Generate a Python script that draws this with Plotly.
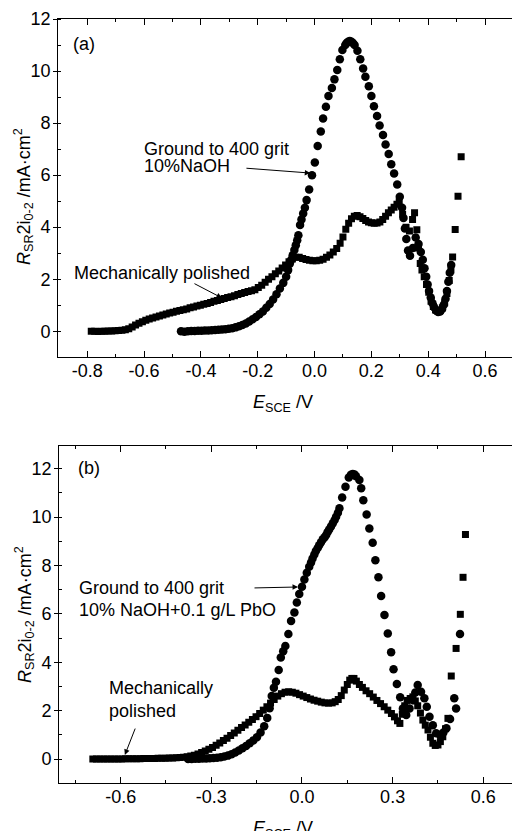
import plotly.graph_objects as go

# ---------------- data: panel (a), 10% NaOH ----------------
a_ground_E = [-0.470, -0.458, -0.446, -0.434, -0.422, -0.410, -0.398, -0.386, -0.374, -0.362,
              -0.350, -0.338, -0.326, -0.314, -0.302, -0.290, -0.278, -0.266, -0.254, -0.242,
              -0.230, -0.218, -0.206, -0.194, -0.182, -0.170, -0.158, -0.146, -0.134, -0.122,
              -0.110, -0.100, -0.093, -0.087, -0.082, -0.077, -0.071, -0.066, -0.061, -0.057,
              -0.051, -0.046, -0.040, -0.034, -0.028, -0.019, -0.009, 0.001, 0.011, 0.022,
              0.030, 0.040, 0.049, 0.061, 0.070, 0.080, 0.089, 0.098, 0.108, 0.113,
              0.118, 0.124, 0.130, 0.135, 0.141, 0.151, 0.161, 0.171, 0.179, 0.191,
              0.200, 0.209, 0.220, 0.229, 0.241, 0.250, 0.261, 0.270, 0.280, 0.291,
              0.300, 0.308, 0.313, 0.318, 0.323, 0.329, 0.336, 0.346, 0.356, 0.366,
              0.374, 0.381, 0.387, 0.393, 0.398, 0.403, 0.409, 0.415, 0.421, 0.428,
              0.435, 0.442, 0.449, 0.455, 0.461, 0.466, 0.471, 0.476, 0.481]
a_ground_i = [0.00, -0.02, 0.00, 0.01, 0.01, 0.02, 0.02, 0.03, 0.03, 0.04,
              0.05, 0.06, 0.07, 0.08, 0.10, 0.12, 0.15, 0.19, 0.24, 0.30,
              0.38, 0.46, 0.55, 0.65, 0.76, 0.90, 1.05, 1.22, 1.42, 1.64,
              1.86, 2.10, 2.35, 2.60, 2.75, 2.92, 3.12, 3.31, 3.50, 3.69,
              4.08, 4.30, 4.53, 4.75, 5.04, 5.45, 6.00, 6.49, 7.12, 7.68,
              8.18, 8.63, 9.04, 9.35, 9.68, 10.04, 10.45, 10.81, 11.00, 11.08,
              11.13, 11.15, 11.13, 11.08, 11.00, 10.78, 10.45, 10.10, 9.78, 9.42,
              9.04, 8.65, 8.27, 7.91, 7.54, 7.18, 6.81, 6.42, 6.06, 5.64,
              5.17, 4.75, 4.35, 3.95, 3.55, 3.10, 2.90, 3.20, 3.60, 3.35,
              3.05, 2.75, 2.42, 2.10, 1.80, 1.55, 1.30, 1.08, 0.92, 0.80,
              0.74, 0.76, 0.86, 1.02, 1.25, 1.55, 1.90, 2.25, 2.55]

a_polish_E = [-0.786, -0.774, -0.762, -0.750, -0.738, -0.726, -0.714, -0.702, -0.690, -0.678,
              -0.666, -0.654, -0.642, -0.630, -0.618, -0.606, -0.594, -0.582, -0.570, -0.558,
              -0.546, -0.534, -0.522, -0.510, -0.498, -0.486, -0.474, -0.462, -0.450, -0.438,
              -0.426, -0.414, -0.402, -0.390, -0.378, -0.366, -0.354, -0.342, -0.330, -0.318,
              -0.306, -0.294, -0.282, -0.270, -0.258, -0.246, -0.234, -0.222, -0.210, -0.198,
              -0.186, -0.174, -0.162, -0.150, -0.138, -0.126, -0.114, -0.102, -0.090, -0.078,
              -0.066, -0.054, -0.042, -0.030, -0.018, -0.006, 0.006, 0.018, 0.030, 0.042,
              0.054, 0.066, 0.078, 0.090, 0.100, 0.110, 0.120, 0.130, 0.140, 0.150,
              0.160, 0.170, 0.180, 0.190, 0.200, 0.210, 0.220, 0.230, 0.240, 0.250,
              0.260, 0.270, 0.280, 0.290, 0.298, 0.310, 0.322, 0.334, 0.345, 0.352,
              0.360, 0.366, 0.372, 0.378, 0.386, 0.394, 0.402, 0.410, 0.418, 0.426,
              0.434, 0.442, 0.450, 0.458, 0.466, 0.474, 0.480, 0.486, 0.495, 0.505,
              0.516]
a_polish_i = [0.00, 0.00, -0.01, 0.00, 0.00, 0.01, 0.01, 0.02, 0.03, 0.04,
              0.06, 0.10, 0.16, 0.24, 0.31, 0.37, 0.42, 0.47, 0.51, 0.55,
              0.59, 0.63, 0.66, 0.70, 0.73, 0.77, 0.80, 0.83, 0.86, 0.90,
              0.93, 0.97, 1.00, 1.04, 1.07, 1.11, 1.15, 1.18, 1.22, 1.26,
              1.30, 1.33, 1.37, 1.41, 1.45, 1.49, 1.53, 1.56, 1.60, 1.68,
              1.77, 1.88, 2.00, 2.10, 2.21, 2.32, 2.43, 2.55, 2.67, 2.78,
              2.84, 2.84, 2.80, 2.76, 2.73, 2.71, 2.71, 2.73, 2.77, 2.84,
              2.93, 3.05, 3.18, 3.38, 3.62, 3.92, 4.15, 4.32, 4.42, 4.45,
              4.40, 4.33, 4.26, 4.20, 4.17, 4.15, 4.16, 4.20, 4.30, 4.42,
              4.55, 4.66, 4.77, 4.88, 4.97, 4.50, 4.00, 3.85, 4.30, 4.55,
              3.90, 3.20, 2.60, 2.35, 2.10, 1.80, 1.50, 1.15, 0.95, 0.82,
              0.78, 0.80, 0.90, 1.10, 1.45, 1.95, 2.35, 2.85, 3.91, 5.19,
              6.71]

# ---------------- data: panel (b), 10% NaOH + 0.1 g/L PbO ----------------
b_ground_E = [-0.377, -0.365, -0.353, -0.341, -0.329, -0.317, -0.305, -0.293, -0.281, -0.269,
              -0.257, -0.245, -0.233, -0.221, -0.209, -0.197, -0.185, -0.173, -0.161, -0.149,
              -0.137, -0.125, -0.115, -0.107, -0.100, -0.093, -0.086, -0.077, -0.070, -0.062,
              -0.055, -0.045, -0.036, -0.025, -0.017, -0.009, 0.000, 0.008, 0.016, 0.024,
              0.030, 0.035, 0.041, 0.046, 0.052, 0.057, 0.063, 0.069, 0.075, 0.080,
              0.085, 0.090, 0.096, 0.102, 0.108, 0.113, 0.119, 0.124, 0.133, 0.144,
              0.155, 0.162, 0.168, 0.174, 0.179, 0.190, 0.196, 0.203, 0.214, 0.223,
              0.234, 0.243, 0.253, 0.262, 0.273, 0.284, 0.295, 0.303, 0.314, 0.325,
              0.334, 0.345, 0.356, 0.367, 0.375, 0.383, 0.394, 0.405, 0.413, 0.422,
              0.433, 0.444, 0.457, 0.468, 0.478, 0.490, 0.510, 0.504, 0.523]
b_ground_i = [0.00, 0.00, 0.01, 0.01, 0.02, 0.02, 0.03, 0.04, 0.05, 0.07,
              0.10, 0.14, 0.20, 0.27, 0.35, 0.44, 0.54, 0.65, 0.77, 0.90,
              1.10, 1.35, 1.70, 2.10, 2.60, 2.95, 3.19, 3.68, 4.20, 4.45,
              4.67, 5.17, 5.70, 6.06, 6.47, 6.82, 7.12, 7.42, 7.70, 7.95,
              8.12, 8.29, 8.45, 8.60, 8.72, 8.84, 8.96, 9.08, 9.17, 9.26,
              9.38, 9.49, 9.61, 9.74, 9.88, 10.01, 10.18, 10.36, 10.81, 11.25,
              11.64, 11.75, 11.78, 11.76, 11.69, 11.53, 11.19, 10.70, 10.11, 9.53,
              8.94, 8.22, 7.51, 6.74, 5.95, 5.19, 4.41, 3.71, 3.10, 2.55,
              2.09, 1.82, 2.09, 2.44, 2.75, 3.06, 2.78, 2.51, 2.16, 1.75,
              1.40, 1.06, 0.99, 1.10, 1.27, 1.65, 2.09, 2.51, 5.17]

b_polish_E = [-0.692, -0.680, -0.668, -0.656, -0.644, -0.632, -0.620, -0.608, -0.596, -0.584,
              -0.572, -0.560, -0.548, -0.536, -0.524, -0.512, -0.500, -0.488, -0.476, -0.464,
              -0.452, -0.440, -0.428, -0.416, -0.404, -0.392, -0.380, -0.368, -0.356, -0.344,
              -0.332, -0.320, -0.308, -0.296, -0.284, -0.272, -0.260, -0.248, -0.236, -0.224,
              -0.212, -0.200, -0.188, -0.176, -0.164, -0.152, -0.140, -0.128, -0.116, -0.104,
              -0.092, -0.080, -0.068, -0.056, -0.044, -0.032, -0.020, -0.008, 0.004, 0.016,
              0.028, 0.040, 0.052, 0.064, 0.076, 0.088, 0.100, 0.110, 0.120, 0.130,
              0.140, 0.150, 0.158, 0.165, 0.172, 0.180, 0.190, 0.200, 0.212, 0.224,
              0.236, 0.248, 0.260, 0.272, 0.284, 0.296, 0.306, 0.316, 0.324, 0.332,
              0.340, 0.348, 0.358, 0.367, 0.375, 0.383, 0.392, 0.400, 0.408, 0.417,
              0.425, 0.433, 0.441, 0.450, 0.458, 0.466, 0.475, 0.483, 0.494, 0.510,
              0.524, 0.533, 0.541]
b_polish_i = [0.00, 0.00, 0.00, 0.00, 0.00, 0.00, 0.00, 0.00, 0.00, 0.01,
              0.01, 0.01, 0.01, 0.01, 0.02, 0.02, 0.02, 0.02, 0.03, 0.03,
              0.03, 0.04, 0.04, 0.05, 0.06, 0.07, 0.09, 0.12, 0.16, 0.21,
              0.27, 0.33, 0.40, 0.48, 0.57, 0.66, 0.76, 0.86, 0.97, 1.08,
              1.19, 1.30, 1.41, 1.52, 1.63, 1.75, 1.88, 2.02, 2.16, 2.31,
              2.46, 2.60, 2.70, 2.76, 2.78, 2.76, 2.72, 2.66, 2.60, 2.54,
              2.48, 2.43, 2.39, 2.35, 2.32, 2.31, 2.32, 2.37, 2.46, 2.62,
              2.85, 3.08, 3.26, 3.33, 3.33, 3.22, 3.08, 2.96, 2.82, 2.70,
              2.56, 2.42, 2.29, 2.16, 2.02, 1.88, 1.74, 1.58, 1.47, 1.85,
              2.20, 2.42, 2.50, 2.57, 2.40, 2.20, 1.90, 1.61, 1.40, 1.20,
              0.90, 0.65, 0.56, 0.58, 0.72, 0.92, 1.25, 1.68, 3.43, 4.57,
              5.98, 7.51, 9.28]

# ---------------- tick labels ----------------
a_xtick_vals = [-0.8, -0.6, -0.4, -0.2, 0.0, 0.2, 0.4, 0.6]
a_xtick_text = ["-0.8", "-0.6", "-0.4", "-0.2", "0.0", "0.2", "0.4", "0.6"]
b_xtick_vals = [-0.6, -0.3, 0.0, 0.3, 0.6]
b_xtick_text = ["-0.6", "-0.3", "0.0", "0.3", "0.6"]
ytick_vals = [0, 2, 4, 6, 8, 10, 12]
ytick_text = ["0", "2", "4", "6", "8", "10", "12"]

for xs, ys in [(a_ground_E, a_ground_i), (a_polish_E, a_polish_i),
               (b_ground_E, b_ground_i), (b_polish_E, b_polish_i)]:
    assert len(xs) == len(ys), (len(xs), len(ys))

FONT = "Liberation Sans, Arial, sans-serif"
FS = 18
W, H = 512, 831

fig = go.Figure()

circle = dict(symbol="circle", size=8.5, color="black", line=dict(width=0))
square = dict(symbol="square", size=7, color="black", line=dict(width=0))

fig.add_trace(go.Scatter(x=a_polish_E, y=a_polish_i, mode="markers", marker=square,
                         xaxis="x", yaxis="y", name="Mechanically polished"))
fig.add_trace(go.Scatter(x=a_ground_E, y=a_ground_i, mode="markers", marker=circle,
                         xaxis="x", yaxis="y", name="Ground to 400 grit"))
fig.add_trace(go.Scatter(x=b_polish_E, y=b_polish_i, mode="markers", marker=square,
                         xaxis="x2", yaxis="y2", name="Mechanically polished"))
fig.add_trace(go.Scatter(x=b_ground_E, y=b_ground_i, mode="markers", marker=circle,
                         xaxis="x2", yaxis="y2", name="Ground to 400 grit"))


def xaxis_style(vals, text, minor_step, rng, left_px, anchor):
    return dict(
        domain=[left_px / W, 1.0], range=rng, anchor=anchor, automargin=False,
        showline=True, linecolor="black", linewidth=1.2, mirror="allticks",
        ticks="inside", ticklen=6, tickwidth=1.2, tickcolor="black",
        tickvals=vals, ticktext=text, ticklabelstandoff=-3,
        minor=dict(dtick=minor_step, tick0=0, ticks="inside", ticklen=3,
                   tickwidth=1.2, tickcolor="black"),
        showgrid=False, zeroline=False,
        tickfont=dict(family=FONT, size=FS, color="black"),
    )


def yaxis_style(domain_px, rng, anchor):
    top, bottom = domain_px
    return dict(
        domain=[1 - bottom / H, 1 - top / H], range=rng, anchor=anchor, automargin=False,
        showline=True, linecolor="black", linewidth=1.2, mirror=False,
        ticks="outside", ticklen=4, tickwidth=1.2, tickcolor="black",
        tickvals=ytick_vals, ticktext=ytick_text, ticklabelstandoff=-1,
        minor=dict(dtick=1, tick0=0, ticks="inside", ticklen=3,
                   tickwidth=1.2, tickcolor="black"),
        showgrid=False, zeroline=False,
        tickfont=dict(family=FONT, size=FS, color="black"),
    )


ytitle = "<i>R</i><sub>SR</sub>2i<sub>0-2</sub> /mA·cm<sup>2</sup>"
xtitle = "<i>E</i><sub>SCE</sub> /V"


def text_note(x, y, t, xref, yref):
    return dict(x=x, y=y, xref=xref, yref=yref, text=t, showarrow=False,
                xanchor="left", yanchor="middle",
                font=dict(family=FONT, size=FS, color="black"))


def arrow_note(x, y, ax, ay, xref, yref):
    return dict(x=x, y=y, ax=ax, ay=ay, xref=xref, yref=yref, axref=xref, ayref=yref,
                text="", showarrow=True, arrowhead=2, arrowsize=1.1, arrowwidth=1,
                arrowcolor="black", standoff=0, startstandoff=0)


annotations = [
    # panel (a)
    text_note(-0.856, 11.04, "(a)", "x", "y"),
    text_note(-0.607, 7.0, "Ground to 400 grit", "x", "y"),
    text_note(-0.607, 6.35, "10%NaOH", "x", "y"),
    arrow_note(-0.015, 6.08, -0.245, 6.27, "x", "y"),
    text_note(-0.854, 2.24, "Mechanically polished", "x", "y"),
    arrow_note(-0.326, 1.28, -0.428, 1.86, "x", "y"),
    # panel (b)
    text_note(-0.748, 12.03, "(b)", "x2", "y2"),
    text_note(-0.745, 7.07, "Ground to 400 grit", "x2", "y2"),
    text_note(-0.745, 6.16, "10% NaOH+0.1 g/L PbO", "x2", "y2"),
    arrow_note(-0.013, 7.11, -0.162, 7.07, "x2", "y2"),
    text_note(-0.645, 2.94, "Mechanically", "x2", "y2"),
    text_note(-0.645, 1.98, "polished", "x2", "y2"),
    arrow_note(-0.586, 0.17, -0.55, 1.32, "x2", "y2"),
    # axis titles
    dict(x=24 / W, y=1 - 197 / H, xref="paper", yref="paper", text=ytitle,
         textangle=-90, showarrow=False, xanchor="center", yanchor="middle",
         font=dict(family=FONT, size=FS, color="black")),
    dict(x=24 / W, y=1 - 615 / H, xref="paper", yref="paper", text=ytitle,
         textangle=-90, showarrow=False, xanchor="center", yanchor="middle",
         font=dict(family=FONT, size=FS, color="black")),
    dict(x=283 / W, y=1 - 404 / H, xref="paper", yref="paper", text=xtitle,
         showarrow=False, xanchor="center", yanchor="middle",
         font=dict(family=FONT, size=FS, color="black")),
    dict(x=283 / W, y=1 - 829 / H, xref="paper", yref="paper", text=xtitle,
         showarrow=False, xanchor="center", yanchor="middle",
         font=dict(family=FONT, size=FS, color="black")),
]

fig.update_layout(
    width=W, height=H,
    margin=dict(l=0, r=0, t=0, b=0, autoexpand=False),
    paper_bgcolor="white", plot_bgcolor="white",
    showlegend=False,
    xaxis=xaxis_style(a_xtick_vals, a_xtick_text, 0.1, [-0.902, 0.695], 58.3, "y"),
    yaxis=yaxis_style((19, 357.3), [-1, 12], "x"),
    xaxis2=xaxis_style(b_xtick_vals, b_xtick_text, 0.15, [-0.803, 0.695], 59.3, "y2"),
    yaxis2=yaxis_style((445.7, 783.2), [-1, 12.95], "x2"),
    annotations=annotations,
)

fig.write_html("out.html")
